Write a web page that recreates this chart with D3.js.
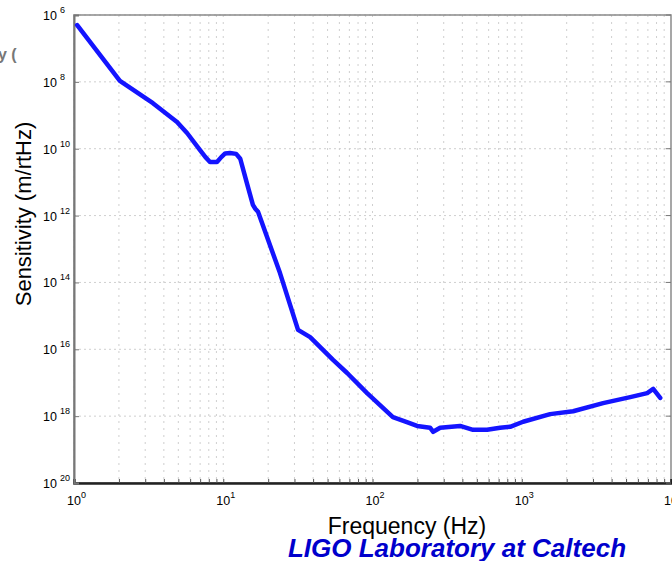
<!DOCTYPE html>
<html>
<head>
<meta charset="utf-8">
<script src="https://cdn.jsdelivr.net/npm/d3@7"></script>
<style>
  body { margin: 0; background: #fff; }
  svg { display: block; font-family: "Liberation Sans", Arial, sans-serif; }
</style>
</head>
<body>
<svg></svg>
<script>
var viewWidth = 672;
var viewHeight = 561;

// frequency (Hz) and sensitivity (m/rtHz)
var freq = [1.05, 2.03, 3.38, 4.9, 5.72, 6.99, 7.6, 8.15, 9.08, 9.7, 10.3, 11.1, 12.2, 13.0, 14.4, 15.8, 16.4, 17.1,
    24.0, 31.7, 38.2, 54.4, 67.6, 92.0, 137, 170, 199, 243, 255, 284, 386, 472, 586, 716, 836,
    1021, 1549, 2209, 3508, 5330, 6930, 7600, 8470];
var sensitivity = [5.0e-7, 1.07e-8, 2.3e-9, 6.3e-10, 2.95e-10, 9.1e-11, 5.6e-11, 4.0e-11, 4.0e-11, 5.6e-11, 7.2e-11,
    7.4e-11, 7.0e-11, 5.0e-11, 9.3e-12, 2.1e-12, 1.6e-12, 1.3e-12, 1.9e-14, 3.8e-16, 2.3e-16, 4.8e-17, 1.95e-17,
    4.9e-18, 9.3e-19, 6.6e-19, 5.1e-19, 4.5e-19, 3.4e-19, 4.5e-19, 5.1e-19, 3.9e-19, 3.9e-19, 4.5e-19,
    4.8e-19, 6.8e-19, 1.15e-18, 1.4e-18, 2.45e-18, 3.7e-18, 4.9e-18, 6.5e-18, 3.5e-18];

var xTicks = [1, 10, 100, 1000, 10000];
var yTicks = [1e-6, 1e-8, 1e-10, 1e-12, 1e-14, 1e-16, 1e-18, 1e-20];

var margin = {top: 15, right: 1, bottom: 78, left: 74};
var width = viewWidth - margin.left - margin.right;
var height = viewHeight - margin.top - margin.bottom;

var svg = d3.select("svg")
    .attr("width", viewWidth)
    .attr("height", viewHeight);

var g = svg.append("g")
    .attr("transform", "translate(" + margin.left + "," + margin.top + ")");

var x = d3.scaleLog().domain([1, 10000]).range([0, width]);
var y = d3.scaleLog().domain([1e-20, 1e-6]).range([height, 0]);

// minor frequencies 1..9 per decade
var minorX = [];
for (var d = 1; d < 10000; d *= 10) {
    for (var k = 1; k < 10; k++) minorX.push(d * k);
}

// grid
g.append("g").selectAll("line")
    .data(minorX)
    .join("line")
    .attr("x1", function(v) { return x(v); })
    .attr("x2", function(v) { return x(v); })
    .attr("y1", 0)
    .attr("y2", height)
    .attr("stroke", "#cfcfcf")
    .attr("stroke-width", 1)
    .attr("stroke-dasharray", "2,5");

g.append("g").selectAll("line")
    .data(yTicks)
    .join("line")
    .attr("x1", 0)
    .attr("x2", width)
    .attr("y1", function(v) { return y(v); })
    .attr("y2", function(v) { return y(v); })
    .attr("stroke", "#cfcfcf")
    .attr("stroke-width", 1)
    .attr("stroke-dasharray", "2,3");

// frame
g.append("rect")
    .attr("width", width)
    .attr("height", height)
    .attr("fill", "none")
    .attr("stroke", "#8a8a8a")
    .attr("stroke-width", 1.5);

// bottom axis with minor ticks
var xAxis = g.append("g")
    .attr("transform", "translate(0," + height + ")")
    .call(d3.axisBottom(x).tickValues(minorX).tickSize(-4).tickFormat(""));
xAxis.select(".domain").attr("stroke", "#222").attr("stroke-width", 2.5);
xAxis.selectAll(".tick line").attr("stroke", "#555");

xAxis.selectAll(".major")
    .data(xTicks)
    .join("text")
    .attr("class", "major")
    .attr("x", function(v) { return x(v) - 7; })
    .attr("y", 22)
    .attr("text-anchor", "start")
    .attr("fill", "#000")
    .style("font-size", "12.5px")
    .each(function(v) {
        var t = d3.select(this);
        t.append("tspan").text("10");
        t.append("tspan").attr("dy", -7).style("font-size", "9px").text(Math.round(Math.log10(v)));
    });

// left axis
var yAxis = g.append("g")
    .call(d3.axisLeft(y).tickValues(yTicks).tickSize(-5).tickFormat(""));
yAxis.select(".domain").attr("stroke", "#777").attr("stroke-width", 2);
yAxis.selectAll(".tick line").attr("stroke", "#777");

yAxis.selectAll(".lab")
    .data(yTicks)
    .join("text")
    .attr("class", "lab")
    .attr("x", -31)
    .attr("y", function(v) { return y(v) + 5; })
    .attr("text-anchor", "start")
    .attr("fill", "#000")
    .style("font-size", "12.5px")
    .each(function(v) {
        var t = d3.select(this);
        t.append("tspan").text("10");
        t.append("tspan").attr("dx", 3).attr("dy", -7).style("font-size", "9px")
            .text(Math.round(-Math.log10(v)));
    });

// right-side ticks
g.append("g")
    .attr("transform", "translate(" + width + ",0)")
    .selectAll("line")
    .data(yTicks)
    .join("line")
    .attr("x1", -5)
    .attr("x2", 0)
    .attr("y1", function(v) { return y(v); })
    .attr("y2", function(v) { return y(v); })
    .attr("stroke", "#777");

// curve
var pts = freq.map(function(f, i) { return [f, sensitivity[i]]; });
g.append("path")
    .datum(pts)
    .attr("fill", "none")
    .attr("stroke", "#1414ff")
    .attr("stroke-width", 4.5)
    .attr("stroke-linejoin", "round")
    .attr("stroke-linecap", "round")
    .attr("d", d3.line()
        .x(function(d) { return x(d[0]); })
        .y(function(d) { return y(d[1]); }));

// labels
svg.append("text")
    .attr("transform", "translate(31,214) rotate(-90)")
    .attr("text-anchor", "middle")
    .style("font-size", "22px")
    .text("Sensitivity (m/rtHz)");

svg.append("text")
    .attr("x", 407)
    .attr("y", 534)
    .attr("text-anchor", "middle")
    .style("font-size", "23px")
    .text("Frequency (Hz)");

svg.append("text")
    .attr("x", 457)
    .attr("y", 557)
    .attr("text-anchor", "middle")
    .style("font-size", "26px")
    .style("font-weight", "bold")
    .style("font-style", "italic")
    .attr("fill", "#0000cc")
    .text("LIGO Laboratory at Caltech");

svg.append("text")
    .attr("x", -2)
    .attr("y", 60)
    .style("font-size", "16px")
    .style("font-weight", "bold")
    .attr("fill", "#777")
    .text("y (");
</script>
</body>
</html>
